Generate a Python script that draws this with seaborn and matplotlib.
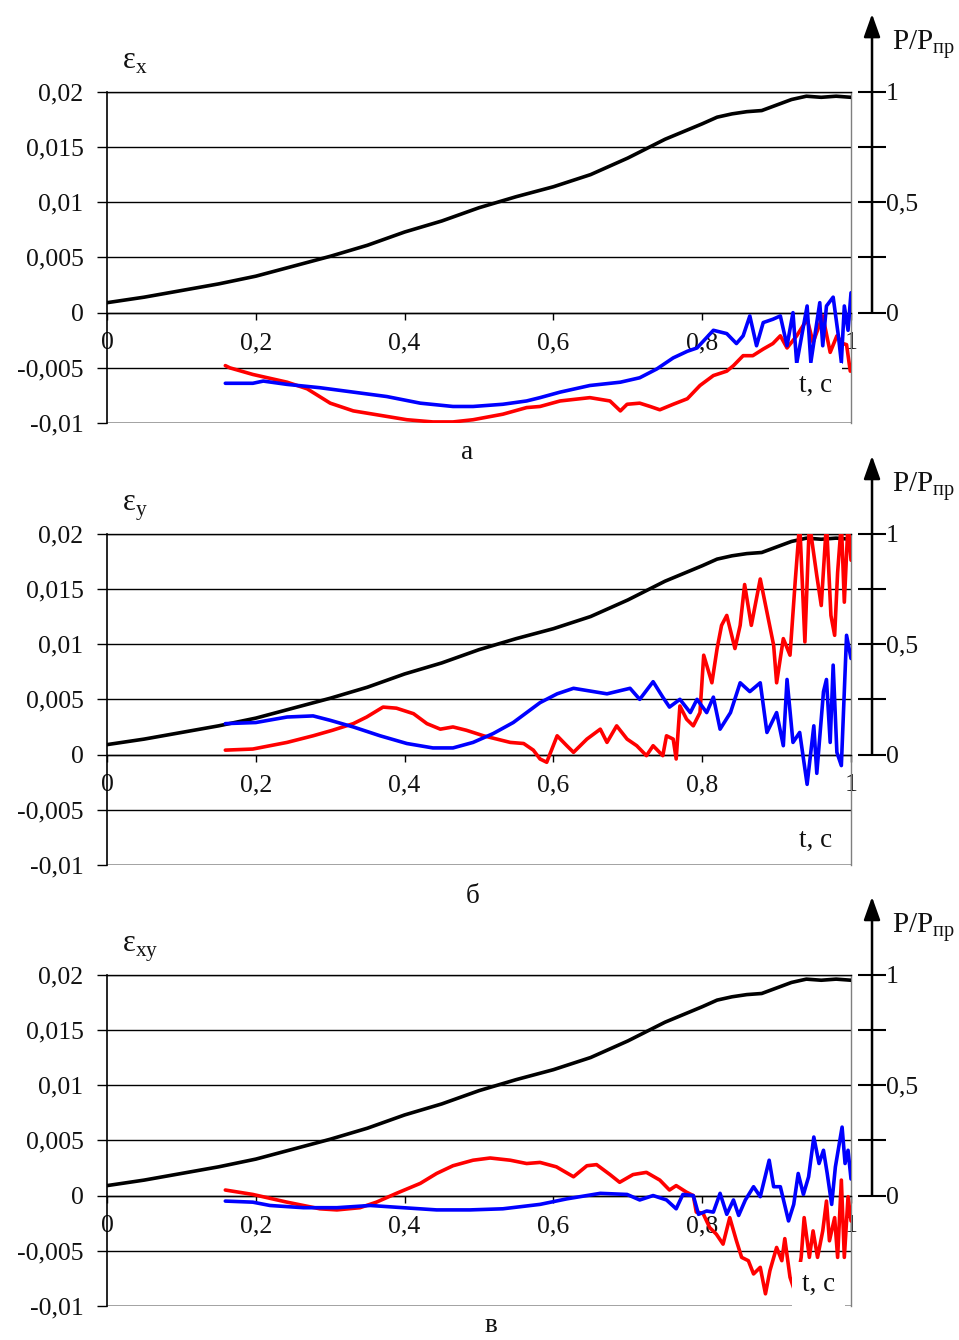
import matplotlib
matplotlib.use("Agg")
import matplotlib.pyplot as plt
import pandas as pd
import seaborn as sns

sns.set_theme(style="white")
plt.rcParams['font.family'] = ['Liberation Serif', 'DejaVu Serif']
plt.rcParams['mathtext.fontset'] = 'custom'
plt.rcParams['mathtext.rm'] = 'Liberation Serif'

# --- axes ticks ---
T_TICKS = [0, 0.2, 0.4, 0.6, 0.8, 1]
T_LABELS = ['0', '0,2', '0,4', '0,6', '0,8', '1']
EPS_TICKS = [-0.01, -0.005, 0, 0.005, 0.01, 0.015, 0.02]
EPS_LABELS = ['-0,01', '-0,005', '0', '0,005', '0,01', '0,015', '0,02']
LOAD_TICKS = [0, 0.25, 0.5, 0.75, 1]
LOAD_LABELS = ['0', '', '0,5', '', '1']

# --- load curve (black), same on all panels: (t, eps) ---
LOAD = [(0.0, 0.0009), (0.05, 0.0014), (0.1, 0.0020), (0.15, 0.0026), (0.2, 0.0033),
        (0.25, 0.0042), (0.3, 0.0051), (0.35, 0.0061), (0.4, 0.0073), (0.45, 0.0083),
        (0.5, 0.0095), (0.55, 0.0105), (0.6, 0.0114), (0.65, 0.0125), (0.7, 0.0140),
        (0.75, 0.0157), (0.8, 0.0171), (0.82, 0.0177), (0.84, 0.0180), (0.86, 0.0182),
        (0.88, 0.0183), (0.9, 0.0188), (0.92, 0.0193), (0.94, 0.0196), (0.96, 0.0195),
        (0.98, 0.0196), (1.0, 0.0195)]

# --- panel а : eps_x ---
RED_A = [(0.159, -0.0048), (0.165, -0.0050), (0.196, -0.0056), (0.242, -0.0063), (0.269, -0.0069),
         (0.300, -0.0082), (0.331, -0.0089), (0.367, -0.0093), (0.403, -0.0097), (0.438, -0.0099),
         (0.465, -0.0099), (0.492, -0.0097), (0.532, -0.0092), (0.564, -0.0086), (0.582, -0.0085),
         (0.609, -0.0080), (0.649, -0.0077), (0.676, -0.0080), (0.690, -0.0089), (0.699, -0.0083),
         (0.716, -0.0082), (0.730, -0.0085), (0.743, -0.0088), (0.761, -0.0083), (0.780, -0.0078),
         (0.797, -0.0066), (0.815, -0.0057), (0.833, -0.0053), (0.842, -0.0048), (0.855, -0.0039),
         (0.868, -0.0039), (0.882, -0.0033), (0.895, -0.0028), (0.905, -0.0021), (0.914, -0.0032),
         (0.927, -0.0021), (0.941, -0.0006), (0.949, -0.0027), (0.962, -0.0003), (0.972, -0.0036),
         (0.981, -0.0021), (0.989, -0.0028), (0.994, -0.0029), (0.999, -0.0053)]
BLUE_A = [(0.159, -0.0064), (0.196, -0.0064), (0.210, -0.0062), (0.242, -0.0065), (0.286, -0.0068),
          (0.331, -0.0072), (0.376, -0.0076), (0.421, -0.0082), (0.465, -0.0085), (0.492, -0.0085),
          (0.532, -0.0083), (0.564, -0.0080), (0.582, -0.0077), (0.609, -0.0072), (0.649, -0.0066),
          (0.690, -0.0063), (0.716, -0.0059), (0.739, -0.0051), (0.761, -0.0041), (0.780, -0.0035),
          (0.793, -0.0032), (0.815, -0.0016), (0.833, -0.0019), (0.846, -0.0028), (0.855, -0.0021),
          (0.864, -0.0003), (0.873, -0.0030), (0.882, -0.0009), (0.895, -0.0006), (0.905, -0.0003),
          (0.914, -0.0030), (0.922, 0.0000), (0.927, -0.0046), (0.941, 0.0006), (0.946, -0.0045),
          (0.958, 0.0009), (0.962, -0.0030), (0.967, 0.0006), (0.976, 0.0014), (0.983, -0.0021),
          (0.987, -0.0045), (0.991, 0.0006), (0.996, -0.0016), (1.0, 0.0018)]

# --- panel б : eps_y ---
RED_B = [(0.159, 0.0004), (0.196, 0.0005), (0.242, 0.0011), (0.277, 0.0017), (0.303, 0.0022),
         (0.331, 0.0028), (0.349, 0.0034), (0.371, 0.0043), (0.389, 0.0042), (0.412, 0.0037),
         (0.430, 0.0028), (0.448, 0.0023), (0.465, 0.0025), (0.483, 0.0022), (0.506, 0.0017),
         (0.524, 0.0014), (0.542, 0.0011), (0.560, 0.0010), (0.573, 0.0004), (0.582, -0.0004),
         (0.591, -0.0007), (0.605, 0.0017), (0.618, 0.0008), (0.627, 0.0002), (0.645, 0.0014),
         (0.663, 0.0023), (0.672, 0.0011), (0.685, 0.0026), (0.699, 0.0014), (0.712, 0.0008),
         (0.725, -0.0001), (0.734, 0.0008), (0.747, -0.0001), (0.752, 0.0017), (0.761, 0.0014),
         (0.765, -0.0004), (0.770, 0.0044), (0.779, 0.0032), (0.788, 0.0026), (0.797, 0.0038),
         (0.802, 0.0090), (0.806, 0.0081), (0.813, 0.0065), (0.820, 0.0096), (0.826, 0.0117),
         (0.833, 0.0126), (0.844, 0.0096), (0.851, 0.0117), (0.857, 0.0154), (0.866, 0.0117),
         (0.878, 0.0159), (0.887, 0.0129), (0.896, 0.0099), (0.900, 0.0065), (0.909, 0.0105),
         (0.918, 0.0090), (0.925, 0.0157), (0.931, 0.0210), (0.938, 0.0102), (0.944, 0.0210),
         (0.954, 0.0162), (0.960, 0.0135), (0.967, 0.0210), (0.973, 0.0126), (0.978, 0.0108),
         (0.982, 0.0165), (0.987, 0.0210), (0.991, 0.0138), (0.996, 0.0210), (1.0, 0.0176)]
BLUE_B = [(0.159, 0.0028), (0.200, 0.0029), (0.242, 0.0034), (0.277, 0.0035), (0.300, 0.0031),
          (0.331, 0.0025), (0.367, 0.0017), (0.403, 0.0010), (0.438, 0.0006), (0.465, 0.0006),
          (0.492, 0.0011), (0.519, 0.0019), (0.546, 0.0029), (0.582, 0.0047), (0.605, 0.0055),
          (0.627, 0.0060), (0.672, 0.0055), (0.703, 0.0060), (0.716, 0.0050), (0.734, 0.0066),
          (0.747, 0.0052), (0.756, 0.0043), (0.770, 0.0050), (0.784, 0.0038), (0.793, 0.0050),
          (0.806, 0.0038), (0.815, 0.0052), (0.824, 0.0023), (0.838, 0.0038), (0.851, 0.0065),
          (0.864, 0.0057), (0.878, 0.0065), (0.887, 0.0020), (0.900, 0.0038), (0.909, 0.0008),
          (0.914, 0.0068), (0.922, 0.0011), (0.931, 0.0020), (0.941, -0.0027), (0.950, 0.0026),
          (0.954, -0.0017), (0.963, 0.0057), (0.967, 0.0068), (0.972, 0.0011), (0.976, 0.0081),
          (0.981, 0.0002), (0.987, -0.0010), (0.994, 0.0108), (1.0, 0.0087)]

# --- panel в : eps_xy ---
RED_C = [(0.159, 0.0005), (0.196, 0.0001), (0.242, -0.0006), (0.286, -0.0012), (0.309, -0.0013),
         (0.340, -0.0011), (0.362, -0.0006), (0.389, 0.0002), (0.421, 0.0011), (0.443, 0.0020),
         (0.465, 0.0027), (0.492, 0.0032), (0.515, 0.0034), (0.542, 0.0032), (0.564, 0.0029),
         (0.582, 0.0030), (0.604, 0.0026), (0.627, 0.0017), (0.645, 0.0027), (0.658, 0.0028),
         (0.676, 0.0019), (0.689, 0.0012), (0.707, 0.0019), (0.725, 0.0021), (0.743, 0.0014),
         (0.756, 0.0005), (0.765, 0.0009), (0.779, 0.0003), (0.788, 0.0000), (0.792, -0.0015),
         (0.801, -0.0016), (0.810, -0.0029), (0.819, -0.0035), (0.828, -0.0044), (0.837, -0.0020),
         (0.846, -0.0041), (0.853, -0.0056), (0.862, -0.0059), (0.869, -0.0071), (0.878, -0.0065),
         (0.885, -0.0089), (0.891, -0.0068), (0.900, -0.0047), (0.907, -0.0059), (0.911, -0.0039),
         (0.918, -0.0074), (0.925, -0.0088), (0.933, -0.0056), (0.937, -0.0020), (0.944, -0.0056),
         (0.949, -0.0032), (0.955, -0.0056), (0.962, -0.0032), (0.967, -0.0005), (0.971, -0.0041),
         (0.978, -0.0020), (0.982, -0.0056), (0.987, 0.0014), (0.991, -0.0056), (0.996, -0.0001),
         (1.0, -0.0023)]
BLUE_C = [(0.159, -0.0005), (0.196, -0.0006), (0.219, -0.0009), (0.264, -0.0011), (0.309, -0.0011),
          (0.354, -0.0009), (0.398, -0.0011), (0.443, -0.0013), (0.488, -0.0013), (0.532, -0.0012),
          (0.582, -0.0008), (0.618, -0.0003), (0.663, 0.0002), (0.699, 0.0001), (0.716, -0.0004),
          (0.734, 0.0000), (0.752, -0.0004), (0.765, -0.0012), (0.774, 0.0001), (0.788, 0.0000),
          (0.795, -0.0017), (0.806, -0.0014), (0.815, -0.0015), (0.824, 0.0002), (0.833, -0.0017),
          (0.842, -0.0004), (0.849, -0.0018), (0.858, -0.0004), (0.869, 0.0008), (0.878, -0.0001),
          (0.890, 0.0032), (0.896, 0.0008), (0.905, 0.0008), (0.916, -0.0023), (0.923, -0.0008),
          (0.929, 0.0020), (0.936, 0.0001), (0.943, 0.0017), (0.950, 0.0053), (0.957, 0.0029),
          (0.963, 0.0041), (0.968, 0.0020), (0.974, -0.0008), (0.979, 0.0026), (0.988, 0.0062),
          (0.992, 0.0029), (0.996, 0.0041), (1.0, 0.0015)]

PANELS = [
    # bottom, eps label, red, blue, caption, caption pos, "t, c" pos
    (0.6843, 'ε$_\\mathregular{x}$', RED_A, BLUE_A, 'а', (0.484, -0.109), (0.952, 0.115)),
    (0.3545, 'ε$_\\mathregular{y}$', RED_B, BLUE_B, 'б', (0.491, -0.114), (0.952, 0.075)),
    (0.0254, 'ε$_\\mathregular{xy}$', RED_C, BLUE_C, 'в', (0.516, -0.080), (0.956, 0.066)),
]

FS = 18.5
SPINE_X = (872 - 107) / 744

fig = plt.figure(figsize=(9.59, 13.4), dpi=100)

for bottom, eps_lab, red, blue, cap, cap_pos, tc_pos in PANELS:
    ax = fig.add_axes([0.1116, bottom, 0.7758, 0.2472])

    for pairs, col in [(LOAD, 'black'), (red, '#ff0000'), (blue, '#0000ff')]:
        df = pd.DataFrame(pairs, columns=['t', 'eps'])
        sns.lineplot(data=df, x='t', y='eps', color=col, lw=2.6, ax=ax,
                     estimator=None, sort=False, zorder=3)

    ax.set_xlim(0, 1)
    ax.set_ylim(-0.01, 0.02)
    ax.set_xlabel('')
    ax.set_ylabel('')
    ax.set_yticks(EPS_TICKS, EPS_LABELS)
    ax.set_xticks(T_TICKS, T_LABELS)
    ax.yaxis.grid(True, color='black', lw=1.0)
    ax.xaxis.grid(False)
    ax.set_axisbelow(True)
    ax.axhline(-0.01, color='black', lw=1.0, zorder=1)

    ax.spines['left'].set_color('black')
    ax.spines['left'].set_linewidth(1.2)
    ax.spines['top'].set_color('black')
    ax.spines['top'].set_linewidth(1.0)
    ax.spines['right'].set_color('#7f7f7f')
    ax.spines['right'].set_linewidth(1.0)
    ax.spines['bottom'].set_position(('data', 0))
    ax.spines['bottom'].set_color('black')
    ax.spines['bottom'].set_linewidth(1.0)

    ax.tick_params(axis='y', left=True, direction='out', length=7, width=1,
                   color='black', pad=10, labelsize=FS, labelcolor='#111111')
    ax.tick_params(axis='x', bottom=True, direction='out', length=5, width=1,
                   color='black', pad=9, labelsize=FS, labelcolor='#111111')

    # secondary load axis P/Pпр
    tw = ax.twinx()
    tw.set_ylim(-0.5, 1.0)
    for s in tw.spines.values():
        s.set_visible(False)
    tw.spines['right'].set_position(('axes', SPINE_X))
    tw.set_yticks(LOAD_TICKS, LOAD_LABELS)
    tw.tick_params(axis='y', right=True, direction='inout', length=20, width=1.5,
                   color='black', pad=0, labelsize=FS, labelcolor='#111111')
    ax.annotate('', xy=(SPINE_X, 1.235), xytext=(SPINE_X, 1 / 3),
                xycoords='axes fraction', annotation_clip=False,
                arrowprops=dict(arrowstyle='-|>,head_length=0.7,head_width=0.25',
                                color='black', lw=1.8,
                                mutation_scale=20, shrinkA=0, shrinkB=0))
    ax.text(1.055, 1.125, 'P/P$_\\mathregular{пр}$', transform=ax.transAxes,
            fontsize=21, ha='left', va='baseline', color='#111111')

    ax.text(0.02, 1.07, eps_lab, transform=ax.transAxes, fontsize=22,
            ha='left', va='baseline', color='#111111')
    ax.text(tc_pos[0], tc_pos[1], 't, c', transform=ax.transAxes, fontsize=FS + 1,
            ha='center', va='center', color='#111111', zorder=6,
            bbox=dict(facecolor='white', edgecolor='none', pad=7))
    ax.text(cap_pos[0], cap_pos[1], cap, transform=ax.transAxes, fontsize=FS + 1,
            ha='center', va='baseline', color='#111111')

fig.savefig('out.png', dpi=100)
